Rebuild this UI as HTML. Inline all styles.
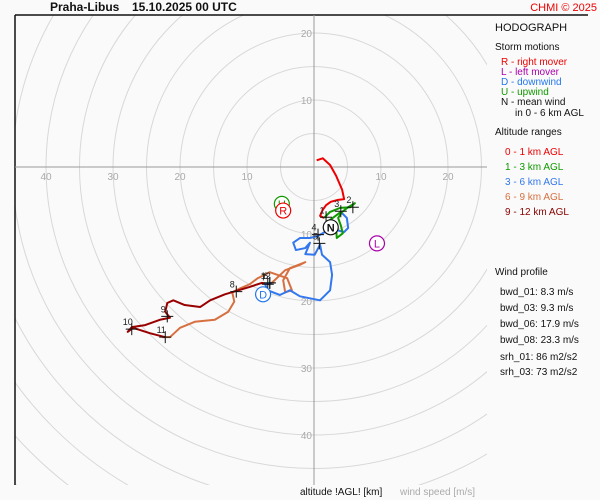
<!DOCTYPE html>
<html><head><meta charset="utf-8"><style>
html,body{margin:0;padding:0;width:600px;height:500px;overflow:hidden;background:#fafafa;font-family:"Liberation Sans",sans-serif}
svg{display:block}
</style></head><body>
<svg id="c" width="600" height="500" xmlns="http://www.w3.org/2000/svg">
<rect width="600" height="500" fill="#fafafa"/>
<defs><clipPath id="pc"><rect x="15" y="15" width="472" height="470"/></clipPath></defs>
<g id="grid" clip-path="url(#pc)"></g>
<line x1="15" y1="15" x2="15" y2="485" stroke="#111" stroke-width="1.5"/>
<line x1="15" y1="15" x2="588" y2="15" stroke="#111" stroke-width="1.5"/>
<g id="axes"></g>
<g id="traces" clip-path="url(#pc)"></g>
<g id="marks"></g>
<text x="50" y="11" font-size="12" font-weight="bold" fill="#111">Praha-Libus</text>
<text x="132" y="11" font-size="12" font-weight="bold" fill="#111">15.10.2025 00 UTC</text>
<text x="597" y="11" font-size="11" fill="#e00" text-anchor="end">CHMI © 2025</text>
<g font-size="10">
<text x="495" y="31" font-size="11" fill="#111">HODOGRAPH</text>
<text x="495" y="50" fill="#111">Storm motions</text>
<text x="501" y="65" fill="#e00">R - right mover</text>
<text x="501" y="75" fill="#a0a">L - left mover</text>
<text x="501" y="85" fill="#27e">D - downwind</text>
<text x="501" y="95" fill="#190">U - upwind</text>
<text x="501" y="105" fill="#111">N - mean wind</text>
<text x="515" y="116" fill="#111">in 0 - 6 km AGL</text>
<text x="495" y="135" fill="#111">Altitude ranges</text>
<text x="505" y="155" fill="#e00">0 - 1 km AGL</text>
<text x="505" y="170" fill="#190">1 - 3 km AGL</text>
<text x="505" y="185" fill="#37e">3 - 6 km AGL</text>
<text x="505" y="200" fill="#d77040">6 - 9 km AGL</text>
<text x="505" y="215" fill="#800">9 - 12 km AGL</text>
</g>
<g font-size="10" fill="#111">
<text x="495" y="275">Wind profile</text>
<text x="500" y="295">bwd_01: 8.3 m/s</text>
<text x="500" y="311">bwd_03: 9.3 m/s</text>
<text x="500" y="327">bwd_06: 17.9 m/s</text>
<text x="500" y="343">bwd_08: 23.3 m/s</text>
<text x="500" y="360">srh_01: 86 m2/s2</text>
<text x="500" y="375">srh_03: 73 m2/s2</text>
</g>
<text x="300" y="495" font-size="10" fill="#111">altitude !AGL! [km]</text>
<text x="400" y="495" font-size="10" fill="#aaa">wind speed [m/s]</text>
</svg>
<script>
const ringValues=[5,10,15,20,25,30,35,40,45,50,55,60,65,70];
const tickLabels=[10,20,30,40];
const seg01=[[0.4,1.0],[1.3,1.3],[2.4,0.3],[3.3,-1.3],[4.2,-3.4],[4.5,-4.8],[3.6,-4.9],[2.5,-5.2],[1.8,-5.7],[1.3,-6.4],[0.9,-7.3],[1.5,-7.6]];
const seg13=[[1.5,-7.6],[2.4,-6.7],[3.9,-6.1],[5.4,-6.0],[6.1,-5.4],[5.1,-6.0],[4.2,-6.7],[3.6,-7.6],[4.0,-8.7],[4.3,-9.9],[3.4,-10.6],[3.3,-9.1],[2.4,-7.9],[4.0,-6.7]];
const seg36=[[4.0,-6.7],[4.9,-7.6],[5.1,-9.1],[4.5,-9.7],[3.3,-9.4],[1.6,-9.7],[0.6,-10.3],[-0.6,-10.6],[-2.1,-10.6],[-3.1,-11.3],[-2.7,-12.4],[-1.3,-12.1],[-0.6,-11.3],[-1.3,-13.0],[0.1,-13.1],[0.9,-11.6],[1.2,-13.1],[2.4,-14.2],[2.7,-16.1],[2.4,-18.4],[0.9,-19.9],[-2.1,-19.3],[-3.6,-18.4],[-5.1,-19.1],[-6.9,-18.4],[-7.3,-17.5],[-6.3,-17.3]];
const seg69=[[-6.3,-17.3],[-4.3,-15.4],[-2.1,-14.6],[-1.3,-14.2],[-3.6,-15.1],[-4.6,-16.9],[-4.3,-18.7],[-3.3,-18.4],[-4.0,-16.6],[-6.6,-15.7],[-8.4,-16.6],[-9.6,-17.5],[-11.0,-18.1],[-12.2,-18.7],[-11.9,-20.1],[-12.8,-21.6],[-14.8,-22.8],[-17.8,-23.1],[-20.0,-24.0],[-21.5,-25.4],[-22.7,-25.4]];
const seg912=[[-6.6,-17.5],[-7.8,-17.3],[-9.6,-17.9],[-11.6,-18.5],[-13.3,-19.0],[-15.5,-19.9],[-17.0,-20.9],[-19.3,-20.6],[-21.0,-19.9],[-21.9,-20.3],[-22.2,-21.6],[-21.5,-22.5],[-23.0,-22.8],[-25.2,-23.6],[-27.2,-23.9],[-27.8,-24.6],[-27.0,-24.0],[-24.5,-24.8],[-22.2,-25.4]];
const kmLabels=["1","2","3","4","5","6","7","8","9","10","11","12"];
const kmPoints=[[1.8,-7.5],[5.8,-6.0],[4.0,-6.6],[0.6,-10.1],[0.8,-11.4],[-6.6,-17.3],[-6.9,-17.5],[-11.6,-18.6],[-21.9,-22.3],[-27.2,-24.2],[-22.2,-25.4],[-6.6,-17.3]];
const stormLabels=["U","R","L","D","N"];
const stormPoints=[[-4.8,-5.5],[-4.6,-6.5],[9.4,-11.4],[-7.6,-19.0],[2.5,-9.0]];
const stormColors=["#190","#e00","#a0a","#27e","#111"];
const CX=314,CY=167,S=6.7;
const X=u=>CX+u*S, Y=v=>CY-v*S;
const NS="http://www.w3.org/2000/svg";
function mk(t,a,p){const e=document.createElementNS(NS,t);for(const k in a)e.setAttribute(k,a[k]);p.appendChild(e);return e;}
const grid=document.getElementById('grid');
ringValues.forEach(r=>{const c=mk('circle',{cx:CX,cy:CY,r:r*S,fill:'none',stroke:'#d8d8d8','stroke-width':1},grid);

});
const ax=document.getElementById('axes');
const hx=mk('line',{x1:15,y1:CY,x2:487,y2:CY,stroke:'#999','stroke-width':1},ax);


const vx=mk('line',{x1:CX,y1:15,x2:CX,y2:485,stroke:'#999','stroke-width':1},ax);


tickLabels.forEach(t=>{
 const a=mk('text',{x:X(-t),y:CY+13,'font-size':10,fill:'#aaa','text-anchor':'middle'},ax);a.textContent=t;
 
 
 if(t<=20){const b=mk('text',{x:X(t),y:CY+13,'font-size':10,fill:'#aaa','text-anchor':'middle'},ax);b.textContent=t;
 
 }
 if(t<=20){const c=mk('text',{x:CX-2,y:Y(t)+4,'font-size':10,fill:'#aaa','text-anchor':'end'},ax);c.textContent=t;
 
 }
 const d=mk('text',{x:CX-2,y:Y(-t)+4,'font-size':10,fill:'#aaa','text-anchor':'end'},ax);d.textContent=t;
 
 
});
const tr=document.getElementById('traces');
[[seg69,'#d77040','trace-6-9km'],[seg912,'#900','trace-9-12km'],[seg36,'#37e','trace-3-6km'],[seg13,'#190','trace-1-3km'],[seg01,'#e00','trace-0-1km']].forEach(([s,col,n])=>{
 const p=mk('polyline',{points:s.map(q=>X(q[0])+','+Y(q[1])).join(' '),fill:'none',stroke:col,'stroke-width':2,'stroke-linejoin':'round'},tr);
 
 
});
const mg=document.getElementById('marks');
kmPoints.forEach((q,i)=>{
 const x=X(q[0]),y=Y(q[1]);
 const g=mk('path',{d:`M${x-6} ${y}H${x+6}M${x} ${y-6}V${y+6}`,stroke:'#111','stroke-width':1},mg);
 
 
 const t=mk('text',{x:x-4,y:y-4,'font-size':9,fill:'#222','text-anchor':'middle'},mg);t.textContent=kmLabels[i];
 
 
});
stormPoints.forEach((q,i)=>{
 const x=X(q[0]),y=Y(q[1]);
 const c=mk('circle',{cx:x,cy:y,r:7.5,fill:'#fff',stroke:stormColors[i],'stroke-width':1.2},mg);
 
 
 const t=mk('text',{x:x,y:y+4,'font-size':11,fill:stormColors[i],'text-anchor':'middle','font-weight':stormLabels[i]=='N'?'bold':'normal'},mg);t.textContent=stormLabels[i];
 
 
});
</script>
</body></html>
